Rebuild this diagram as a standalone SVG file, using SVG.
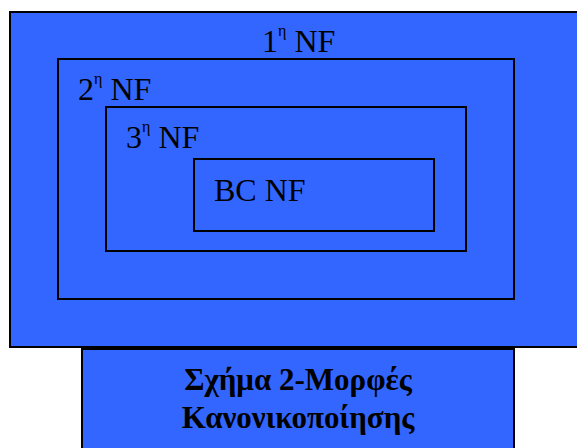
<svg xmlns="http://www.w3.org/2000/svg" width="577" height="448" viewBox="0 0 577 448">
  <style>
    .box { fill: #3366FF; stroke: #000; stroke-width: 2; }
    .frame { fill: none; stroke: #000; stroke-width: 2; }
    .lbl { font-family: "Liberation Serif", "Times New Roman", serif; font-size: 32px; fill: #000; }
    .sup { font-size: 16px; }
    .cap { font-family: "Liberation Serif", "Times New Roman", serif; font-size: 31px; font-weight: bold; fill: #000; text-anchor: middle; }
  </style>
  <rect x="0" y="0" width="577" height="448" fill="#fff"/>

  <!-- outer level: 1st normal form -->
  <g id="nf1">
    <rect class="box" x="10" y="12" width="575" height="335"/>
    <text class="lbl" x="262" y="52">1<tspan class="sup" dy="-16">η</tspan><tspan dy="16"> NF</tspan></text>
  </g>

  <!-- 2nd normal form -->
  <g id="nf2">
    <rect class="frame" x="58" y="59" width="456" height="240"/>
    <text class="lbl" x="78" y="100">2<tspan class="sup" dy="-16">η</tspan><tspan dy="16"> NF</tspan></text>
  </g>

  <!-- 3rd normal form -->
  <g id="nf3">
    <rect class="frame" x="106" y="107" width="360" height="144"/>
    <text class="lbl" x="126" y="148">3<tspan class="sup" dy="-16">η</tspan><tspan dy="16"> NF</tspan></text>
  </g>

  <!-- Boyce-Codd normal form -->
  <g id="bcnf">
    <rect class="frame" x="194" y="159" width="240" height="72"/>
    <text class="lbl" x="214" y="201">BC NF</text>
  </g>

  <!-- caption box -->
  <g id="caption">
    <rect class="box" x="82" y="349" width="432" height="110"/>
    <text class="cap" x="298" y="390">Σχήμα 2-Μορφές</text>
    <text class="cap" x="298" y="428">Κανονικοποίησης</text>
  </g>

  <g id="connectors"></g>
</svg>
